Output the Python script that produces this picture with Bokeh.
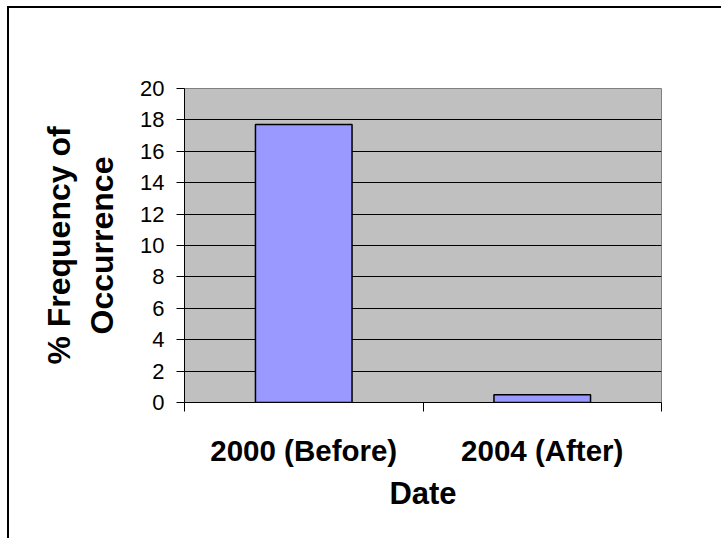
from bokeh.plotting import figure
from bokeh.models import FixedTicker, Range1d
from bokeh.embed import file_html
from bokeh.resources import INLINE

# Data
categories = ["2000 (Before)", "2004 (After)"]
frequency = [17.7, 0.5]
y_ticks = [0, 2, 4, 6, 8, 10, 12, 14, 16, 18, 20]

n = len(categories)
x_centers = [i + 0.5 for i in range(n)]
x_bounds = [float(i) for i in range(n + 1)]

FONT = "Liberation Sans"

p = figure(
    width=714, height=532,
    output_backend="svg", toolbar_location=None,
    x_range=Range1d(0, n), y_range=Range1d(y_ticks[0], y_ticks[-1]),
    min_border_left=175, min_border_right=62,
    min_border_top=80, min_border_bottom=138,
)
p.styles = {
    "margin-left": "7px",
    "margin-top": "6px",
    "border-left": "2px solid black",
    "border-top": "2px solid black",
}

p.background_fill_color = "#C0C0C0"
p.border_fill_color = "white"
p.outline_line_color = "#808080"
p.outline_line_width = 1

p.vbar(x=x_centers, top=frequency, width=0.405,
       fill_color="#9999FF", line_color="black", line_width=1.5)

# Horizontal gridlines
p.xgrid.visible = False
p.ygrid.ticker = FixedTicker(ticks=y_ticks[1:-1])
p.ygrid.grid_line_color = "black"
p.ygrid.grid_line_width = 1

# X axis: labels centred under each bar, tick marks on category boundaries
xa = p.xaxis[0]
xa.ticker = FixedTicker(ticks=x_centers, minor_ticks=x_bounds)
xa.major_label_overrides = {c: lab for c, lab in zip(x_centers, categories)}
xa.major_tick_in = 0
xa.major_tick_out = 0
xa.minor_tick_in = 0
xa.minor_tick_out = 9
xa.minor_tick_line_color = "black"
xa.axis_line_color = "black"
xa.major_label_standoff = 22
xa.major_label_text_font = FONT
xa.major_label_text_font_size = "29.5px"
xa.major_label_text_font_style = "bold"
xa.major_label_text_color = "black"
xa.axis_label = "Date"
xa.axis_label_text_font = FONT
xa.axis_label_text_font_size = "31px"
xa.axis_label_text_font_style = "bold"
xa.axis_label_text_color = "black"
xa.axis_label_standoff = 6

# Y axis
ya = p.yaxis[0]
ya.ticker = FixedTicker(ticks=y_ticks)
ya.major_tick_in = 0
ya.major_tick_out = 8
ya.minor_tick_line_color = None
ya.axis_line_color = "black"
ya.major_tick_line_color = "black"
ya.major_label_standoff = 12
ya.major_label_text_font = FONT
ya.major_label_text_font_size = "22px"
ya.major_label_text_color = "black"
ya.axis_label = "% Frequency of\nOccurrence"
ya.axis_label_text_font = FONT
ya.axis_label_text_font_size = "32px"
ya.axis_label_text_font_style = "bold"
ya.axis_label_text_color = "black"
ya.axis_label_text_line_height = 1.2
ya.axis_label_standoff = 17

open("out.html", "w").write(file_html(p, INLINE))
